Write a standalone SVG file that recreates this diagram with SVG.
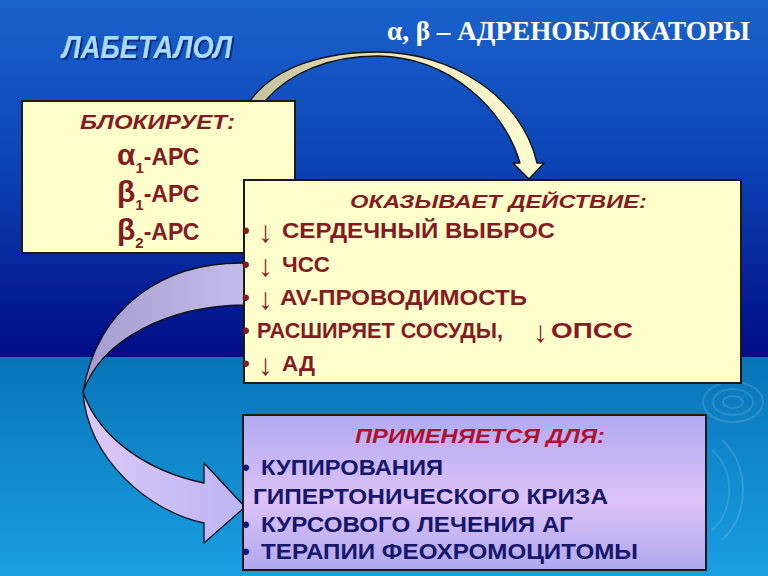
<svg xmlns="http://www.w3.org/2000/svg" width="768" height="576" viewBox="0 0 768 576">
<defs>
<linearGradient id="bgTop" x1="0" y1="0" x2="0" y2="1">
<stop offset="0" stop-color="#1a62cc"/>
<stop offset="0.45" stop-color="#0c44b6"/>
<stop offset="1" stop-color="#020c86"/>
</linearGradient>
<linearGradient id="bgBot" x1="0" y1="0" x2="0" y2="1">
<stop offset="0" stop-color="#0874b8"/>
<stop offset="1" stop-color="#1a9ee2"/>
</linearGradient>
<linearGradient id="creamArrow" x1="0" y1="0" x2="1" y2="0">
<stop offset="0" stop-color="#c4bf9c"/>
<stop offset="0.5" stop-color="#ece6c0"/>
<stop offset="1" stop-color="#fffdd2"/>
</linearGradient>
<linearGradient id="lavUpper" x1="0" y1="0" x2="1" y2="0">
<stop offset="0" stop-color="#a49ccc"/>
<stop offset="1" stop-color="#c4bcea"/>
</linearGradient>
<linearGradient id="lavLower" x1="0" y1="0" x2="1" y2="0">
<stop offset="0" stop-color="#dcc8f6"/>
<stop offset="1" stop-color="#bcb4f4"/>
</linearGradient>
<linearGradient id="box3fill" x1="0" y1="0" x2="0" y2="1">
<stop offset="0" stop-color="#b2aaf2"/>
<stop offset="0.55" stop-color="#dcc2f8"/>
<stop offset="1" stop-color="#b0a8ee"/>
</linearGradient>
<filter id="shadow" x="-10%" y="-20%" width="130%" height="150%">
<feDropShadow dx="2" dy="2" stdDeviation="0.6" flood-color="#0a2270" flood-opacity="0.8"/>
</filter>
<style>
.box { stroke: #1a1a1a; stroke-width: 2; }
.yel { fill: #ffffcc; }
.hdr { font-family: "Liberation Sans", Arial, sans-serif; font-weight: bold; font-style: italic; }
.body { font-family: "Liberation Sans", Arial, sans-serif; font-weight: bold; }
.red { fill: #861a22; }
.navy { fill: #16166a; }
.arr { font-family: "Liberation Serif", "Times New Roman", serif; font-weight: normal; fill: #861a22; }
.conn { stroke: #111; stroke-width: 1.3; stroke-linejoin: round; }
.swirl { fill: none; stroke: #ffffff; stroke-opacity: 0.13; stroke-width: 2; }
</style>
</defs>

<!-- background -->
<rect x="0" y="0" width="768" height="357" fill="url(#bgTop)"/>
<rect x="0" y="357" width="768" height="219" fill="url(#bgBot)"/>
<g id="swirls">
<ellipse class="swirl" cx="733" cy="402" rx="30" ry="20"/>
<ellipse class="swirl" cx="733" cy="402" rx="20" ry="13"/>
<ellipse class="swirl" cx="733" cy="402" rx="10" ry="6"/>
<path class="swirl" d="M712,450 C735,470 735,510 712,530"/>
<path class="swirl" d="M722,440 C750,465 750,515 722,540"/>
</g>

<!-- titles -->
<g id="title">
<text x="62" y="58" class="hdr" font-size="32" fill="#a8dcff" filter="url(#shadow)" textLength="170" lengthAdjust="spacingAndGlyphs">ЛАБЕТАЛОЛ</text>
</g>
<g id="subtitle">
<text x="387" y="40" font-family="Liberation Serif, 'Times New Roman', serif" font-weight="bold" font-size="27" fill="#ffffff" textLength="363" lengthAdjust="spacingAndGlyphs">α, β – АДРЕНОБЛОКАТОРЫ</text>
</g>

<!-- connectors -->
<g id="connectors">
<path id="arrow-top" class="conn" fill="url(#creamArrow)" d="M250,101 C275,66 325,52 378,52 C450,52 521,95 537,163 L544,163 L529,179 L513,163 L520,163 C505,110 450,57 378,56 C330,56 290,72 265,101 Z"/>
<path id="arrow-left-upper" class="conn" fill="url(#lavUpper)" d="M244,263 C165,262 98,305 83,392 C102,338 170,306 244,305 Z"/>
<path id="arrow-left-lower" class="conn" fill="url(#lavLower)" d="M83,392 C88,460 150,512 204,523 L204,543 L245,507 L204,463 L204,483 C150,472 100,440 83,392 Z"/>
</g>

<!-- node 1 -->
<g id="node-blocks">
<rect class="box yel" x="22" y="101" width="273" height="152"/>
<text x="80" y="129" class="hdr red" font-size="20" textLength="155" lengthAdjust="spacingAndGlyphs">БЛОКИРУЕТ:</text>
<text x="117" y="165" class="body red" font-size="23"><tspan font-size="30">α</tspan><tspan font-size="15" dy="8">1</tspan><tspan dy="-8">-АРС</tspan></text>
<text x="117" y="202" class="body red" font-size="23"><tspan font-size="30">β</tspan><tspan font-size="15" dy="8">1</tspan><tspan dy="-8">-АРС</tspan></text>
<text x="117" y="240" class="body red" font-size="23"><tspan font-size="30">β</tspan><tspan font-size="15" dy="8">2</tspan><tspan dy="-8">-АРС</tspan></text>
</g>

<!-- node 2 -->
<g id="node-effects">
<rect class="box yel" x="244" y="180" width="497" height="203"/>
<text x="350" y="208" class="hdr red" font-size="19" textLength="297" lengthAdjust="spacingAndGlyphs">ОКАЗЫВАЕТ ДЕЙСТВИЕ:</text>
<text x="242" y="238" class="body red" font-size="22">•</text>
<text x="258" y="242" class="arr" font-size="30">↓</text>
<text x="282" y="238" class="body red" font-size="22" textLength="273" lengthAdjust="spacingAndGlyphs">СЕРДЕЧНЫЙ ВЫБРОС</text>
<text x="242" y="272" class="body red" font-size="22">•</text>
<text x="258" y="276" class="arr" font-size="30">↓</text>
<text x="282" y="272" class="body red" font-size="22" textLength="48" lengthAdjust="spacingAndGlyphs">ЧСС</text>
<text x="242" y="305" class="body red" font-size="22">•</text>
<text x="258" y="309" class="arr" font-size="30">↓</text>
<text x="280" y="305" class="body red" font-size="22" textLength="247" lengthAdjust="spacingAndGlyphs">AV-ПРОВОДИМОСТЬ</text>
<text x="242" y="338" class="body red" font-size="22">•</text>
<text x="257" y="338" class="body red" font-size="22" textLength="246" lengthAdjust="spacingAndGlyphs">РАСШИРЯЕТ СОСУДЫ,</text>
<text x="533" y="342" class="arr" font-size="30">↓</text>
<text x="551" y="338" class="body red" font-size="22" textLength="82" lengthAdjust="spacingAndGlyphs">ОПСС</text>
<text x="242" y="371" class="body red" font-size="22">•</text>
<text x="258" y="375" class="arr" font-size="30">↓</text>
<text x="282" y="371" class="body red" font-size="22" textLength="33" lengthAdjust="spacingAndGlyphs">АД</text>
</g>

<!-- node 3 -->
<g id="node-uses">
<rect class="box" fill="url(#box3fill)" x="243" y="415" width="463" height="155"/>
<text x="355" y="443" class="hdr" fill="#b0102e" font-size="20" textLength="250" lengthAdjust="spacingAndGlyphs">ПРИМЕНЯЕТСЯ ДЛЯ:</text>
<text x="242" y="475" class="body navy" font-size="22">•</text>
<text x="261" y="475" class="body navy" font-size="22" textLength="182" lengthAdjust="spacingAndGlyphs">КУПИРОВАНИЯ</text>
<text x="253" y="504" class="body navy" font-size="22" textLength="355" lengthAdjust="spacingAndGlyphs">ГИПЕРТОНИЧЕСКОГО КРИЗА</text>
<text x="242" y="532" class="body navy" font-size="22">•</text>
<text x="261" y="532" class="body navy" font-size="22" textLength="312" lengthAdjust="spacingAndGlyphs">КУРСОВОГО ЛЕЧЕНИЯ АГ</text>
<text x="242" y="559" class="body navy" font-size="22">•</text>
<text x="261" y="559" class="body navy" font-size="22" textLength="377" lengthAdjust="spacingAndGlyphs">ТЕРАПИИ ФЕОХРОМОЦИТОМЫ</text>
</g>
</svg>
